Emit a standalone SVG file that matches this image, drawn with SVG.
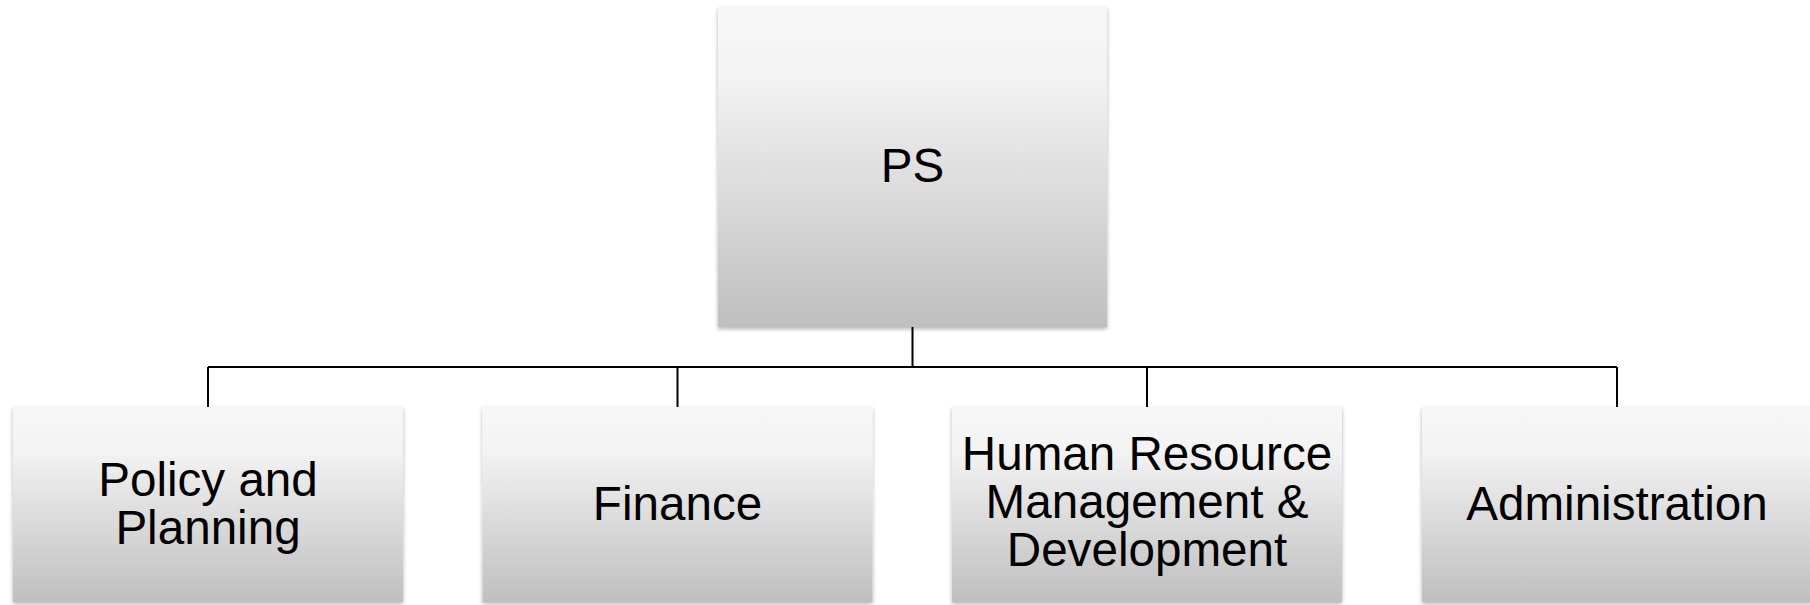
<svg xmlns="http://www.w3.org/2000/svg" width="1810" height="605" viewBox="0 0 1810 605">
  <style>
    .box { fill: url(#g); filter: url(#sh); }
    .lbl { font-family: "Liberation Sans", Arial, sans-serif; font-size: 47.6px; fill: #000; text-anchor: middle; }
    .conn { stroke: #000; stroke-width: 2; fill: none; }
  </style>
  <defs>
    <linearGradient id="g" x1="0" y1="0" x2="0" y2="1">
      <stop offset="0" stop-color="#f7f7f7"/>
      <stop offset="0.22" stop-color="#f3f3f3"/>
      <stop offset="1" stop-color="#bfbfbf"/>
    </linearGradient>
    <filter id="sh" x="-5%" y="-5%" width="110%" height="115%">
      <feDropShadow dx="0" dy="2" stdDeviation="2" flood-color="#000" flood-opacity="0.3"/>
    </filter>
  </defs>
  <rect width="1810" height="605" fill="#ffffff"/>
  <g id="connectors">
    <path class="conn" d="M912.5 327 V367 M208 367 H1617 M208 367 V407 M677.5 367 V407 M1147 367 V407 M1617 367 V407"/>
  </g>
  <g id="ps">
    <rect class="box" x="718" y="7" width="389" height="320"/>
    <text class="lbl" x="912.5" y="182">PS</text>
  </g>
  <g id="policy">
    <rect class="box" x="13" y="407" width="390" height="195"/>
    <text class="lbl" x="208" y="496">Policy and</text>
    <text class="lbl" x="208" y="544">Planning</text>
  </g>
  <g id="finance">
    <rect class="box" x="482.5" y="407" width="390" height="195"/>
    <text class="lbl" x="677.5" y="520">Finance</text>
  </g>
  <g id="hr">
    <rect class="box" x="952" y="407" width="390" height="195"/>
    <text class="lbl" x="1147" y="470">Human Resource</text>
    <text class="lbl" x="1147" y="518">Management &amp;</text>
    <text class="lbl" x="1147" y="566">Development</text>
  </g>
  <g id="admin">
    <rect class="box" x="1422" y="407" width="390" height="195"/>
    <text class="lbl" x="1617" y="520">Administration</text>
  </g>
</svg>
